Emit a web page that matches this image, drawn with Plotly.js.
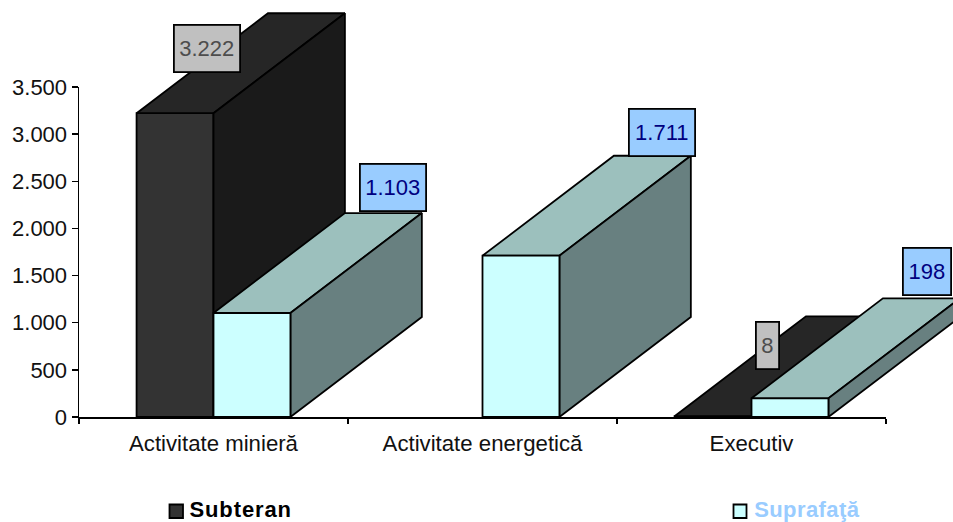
<!DOCTYPE html>
<html>
<head>
<meta charset="utf-8">
<script src="https://cdn.plot.ly/plotly-3.0.1.min.js"></script>
<style>
html,body{margin:0;padding:0;background:#fff;overflow:hidden}
.annotation[data-index="5"] text{letter-spacing:.9px}
.annotation[data-index="6"] text{letter-spacing:.4px}
</style>
</head>
<body>
<div id="chart" style="width:953px;height:522px"></div>
<script>
// ---- data ----
const categories = ['Activitate minieră', 'Activitate energetică', 'Executiv'];
const subteran = [3222, null, 8];
const suprafata = [1103, 1711, 198];
const yTicks = [0, 500, 1000, 1500, 2000, 2500, 3000, 3500];
const seriesNames = ['Subteran', 'Suprafaţă'];

// ---- chart geometry (axis units) ----
const W = 953, H = 522, mL = 79, mB = 105;
const plotW = W - mL, plotH = H - mB;
const axisW = 807, axisH = 330;
const catPos = categories.map((_, i) => i + 0.5);
const barW = 0.286;
const depthX = 0.4885, depthY = 1060;
const font = 'Liberation Sans, Arial, sans-serif';
const fs = 22;
const EDGE = {color: '#000', width: 1.8};

const fmt = v => String(v).replace(/\B(?=(\d{3})+$)/g, '.');

function faces(values, x0Off) {
  const top = {x: [], y: []}, side = {x: [], y: []};
  values.forEach((v, i) => {
    if (v === null) return;
    const a = catPos[i] + x0Off, b = a + barW;
    top.x.push(a, b, b + depthX, a + depthX, a, null);
    top.y.push(v, v, v + depthY, v + depthY, v, null);
    side.x.push(b, b + depthX, b + depthX, b, b, null);
    side.y.push(0, depthY, v + depthY, v, 0, null);
  });
  return {top, side};
}
function poly(f, color) {
  return {type: 'scatter', mode: 'lines', x: f.x, y: f.y, xaxis: 'x2', yaxis: 'y2',
    fill: 'toself', fillcolor: color, line: EDGE, hoverinfo: 'skip', showlegend: false};
}
const fD = faces(subteran, -barW), fL = faces(suprafata, 0);

const traces = [
  {type: 'bar', name: seriesNames[0], x: catPos, y: subteran, width: barW, offset: -barW,
   marker: {color: '#333333', line: EDGE}, xaxis: 'x', yaxis: 'y', showlegend: false},
  poly(fD.top, '#262626'), poly(fD.side, '#1a1a1a'),
  poly(fL.top, '#9cc0bd'), poly(fL.side, '#688080'),
  {type: 'bar', name: seriesNames[1], x: catPos, y: suprafata, width: barW, offset: 0,
   marker: {color: '#ccffff', line: EDGE}, xaxis: 'x3', yaxis: 'y3', showlegend: false}
];

// value labels: [series values, bar centre offset, colours, shifts, box widths]
function labels(values, off, bg, col, sx, sy, w) {
  const out = [];
  values.forEach((v, i) => {
    if (v === null) return;
    out.push({xref: 'x', yref: 'y', x: catPos[i] + off, y: v, text: fmt(v), showarrow: false,
      xshift: sx[i], yshift: sy[i], width: w[i], height: 45, align: 'center', valign: 'middle',
      bgcolor: bg, bordercolor: '#000', borderwidth: 1.8, borderpad: 0,
      font: {family: font, size: fs, color: col}});
  });
  return out;
}
const annotations = [
  ...labels(subteran, -barW / 2, '#c0c0c0', '#4d4d4d', [32, 0, 54], [65, 0, 70.5], [64, 0, 21]),
  ...labels(suprafata, barW / 2, '#99ccff', '#000080', [141.2, 141, 136.8], [125.5, 123.2, 126.8], [64, 64, 46]),
  {xref: 'paper', yref: 'paper', xanchor: 'left', yanchor: 'middle', x: (192 - mL) / plotW, y: -(509.5 - plotH) / plotH,
   text: '<b>' + seriesNames[0] + '</b>', showarrow: false, borderpad: 0, font: {family: font, size: fs, color: '#000'}},
  {xref: 'paper', yref: 'paper', xanchor: 'left', yanchor: 'middle', x: (754.5 - mL) / plotW, y: -(509.5 - plotH) / plotH,
   text: '<b>' + seriesNames[1] + '</b>', showarrow: false, borderpad: 0, font: {family: font, size: fs, color: '#99ccff'}}
];
const swatch = (x0, x1, c) => ({type: 'rect', xref: 'paper', yref: 'paper',
  x0: (x0 - mL) / plotW, x1: (x1 - mL) / plotW, y0: -(518 - plotH) / plotH, y1: -(504.5 - plotH) / plotH,
  fillcolor: c, line: {color: '#000', width: 1.8}});

const hidden = {visible: false, fixedrange: true};
const layout = {
  width: W, height: H, margin: {l: mL, r: 0, t: 0, b: mB, autoexpand: false},
  paper_bgcolor: '#fff', plot_bgcolor: 'rgba(0,0,0,0)', showlegend: false, separators: ',.',
  font: {family: font, size: fs, color: '#000'},
  xaxis: {domain: [0, axisW / plotW], range: [0, 3], anchor: 'y', tickmode: 'array', tickvals: catPos, ticktext: categories,
    ticks: '', ticklabelstandoff: 6, showgrid: false, zeroline: false, showline: true, linecolor: '#000', linewidth: 1.5,
    tickfont: {family: font, size: 22.2, color: '#111'},
    minor: {tickmode: 'array', tickvals: [0, 1, 2, 3], ticks: 'outside', ticklen: 5, tickwidth: 1.3, tickcolor: '#000', showgrid: false}},
  yaxis: {domain: [0, axisH / plotH], range: [0, 3500], anchor: 'x', tickmode: 'array', tickvals: yTicks, ticktext: yTicks.map(fmt),
    ticks: 'outside', ticklen: 6, tickwidth: 1.3, tickcolor: '#000', showgrid: false, zeroline: false,
    showline: true, linecolor: '#000', linewidth: 1.5, tickfont: {family: font, size: fs, color: '#111'}},
  xaxis2: {...hidden, domain: [0, 1], range: [0, 3 * plotW / axisW], anchor: 'y2'},
  yaxis2: {...hidden, domain: [0, 1], range: [0, 3500 * plotH / axisH], anchor: 'x2'},
  xaxis3: {...hidden, domain: [0, axisW / plotW], range: [0, 3], anchor: 'y3'},
  yaxis3: {...hidden, domain: [0, axisH / plotH], range: [0, 3500], anchor: 'x3'},
  annotations,
  shapes: [swatch(169.5, 183, '#333333'), swatch(733.5, 746.5, '#ccffff')]
};
Plotly.newPlot('chart', traces, layout, {displayModeBar: false, staticPlot: true});
</script>
</body>
</html>
